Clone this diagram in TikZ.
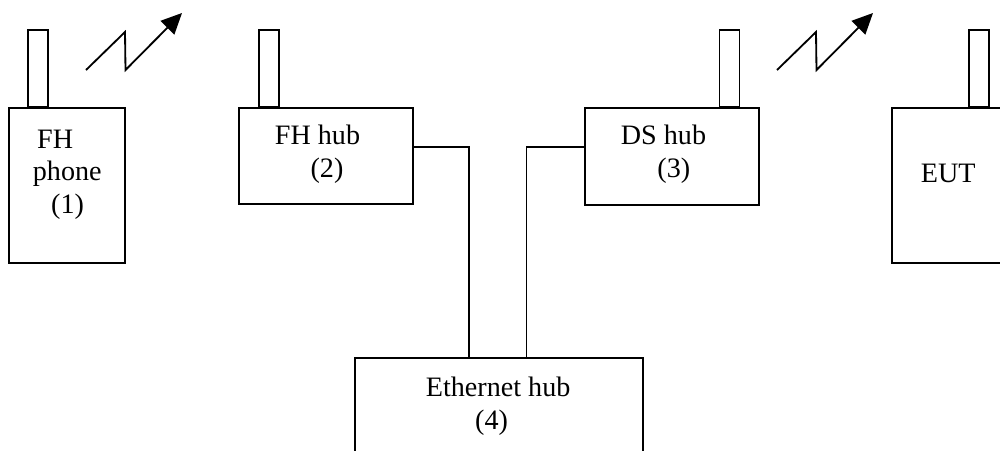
\documentclass[tikz,border=0pt]{standalone}
\usepackage{fontspec}
\setmainfont{Liberation Serif}
\usetikzlibrary{arrows.meta,calc}

\begin{document}
\begin{tikzpicture}[x=0.025cm, y=-0.025cm, line width=1.3pt,
    box/.style={draw, inner sep=0pt},
    antenna/.style={draw, inner sep=0pt, minimum width=0.5cm, minimum height=1.925cm},
    lbl/.style={anchor=base west, inner sep=0pt, align=left,
        font=\fontsize{20}{23}\selectfont},
    radio/.style={-{Triangle[length=0.52cm, width=0.48cm]}, line join=miter}]
    \useasboundingbox (0,0) rectangle (1000,450);
    \clip (0,0) rectangle (1000,450);

    % units
    \node[box, minimum width=2.9cm, minimum height=3.875cm] (phone) at (67,185.5) {};
    \node[box, minimum width=4.35cm, minimum height=2.4cm] (fhhub) at (326,156) {};
    \node[box, minimum width=4.35cm, minimum height=2.425cm] (dshub) at (672,156.5) {};
    \node[box, minimum width=3cm, minimum height=3.875cm] (eut) at (952,185.5) {};
    \node[box, minimum width=7.2cm, minimum height=2.8cm] (ethhub) at (499,414) {};

    % antennas
    \node[antenna, anchor=south] (ant1) at (38,108) {};
    \node[antenna, anchor=south] (ant2) at (269,108) {};
    \node[antenna, anchor=south] (ant3) at (729.5,108) {};
    \node[antenna, anchor=south] (ant4) at (979,108) {};

    % labels (base = last line)
    \node[lbl] (tphone) at (32,213) {\hspace*{0.15em}FH\\phone\\\hspace*{0.65em}(1)};
    \node[lbl] (tfhhub) at (274,177) {FH hub\\\hspace*{1.27em}(2)};
    \node[lbl] (tdshub) at (620,177) {DS hub\\\hspace*{1.3em}(3)};
    \node[lbl] (teut) at (920,182) {EUT};
    \node[lbl] (tethhub) at (425,429) {Ethernet hub\\\hspace*{1.75em}(4)};

    % radio links
    \coordinate (r1a) at (86,70);
    \coordinate (r1b) at (125,32);
    \coordinate (r1c) at (125.5,70);
    \coordinate (r1d) at (182,13);
    \coordinate (r2a) at (777,70);
    \coordinate (r2b) at (816,32);
    \coordinate (r2c) at (816.5,70);
    \coordinate (r2d) at (873,13);
    \draw[radio] (r1a) -- (r1b) -- (r1c) -- (r1d);
    \draw[radio] (r2a) -- (r2b) -- (r2c) -- (r2d);

    % cabling
    \draw ([yshift=0.225cm]fhhub.east) -| ($(ethhub.north west)+(115,0)$);
    \draw ([yshift=0.2375cm]dshub.west) -| ($(ethhub.north west)+(172.5,0)$);
\end{tikzpicture}
\end{document}
